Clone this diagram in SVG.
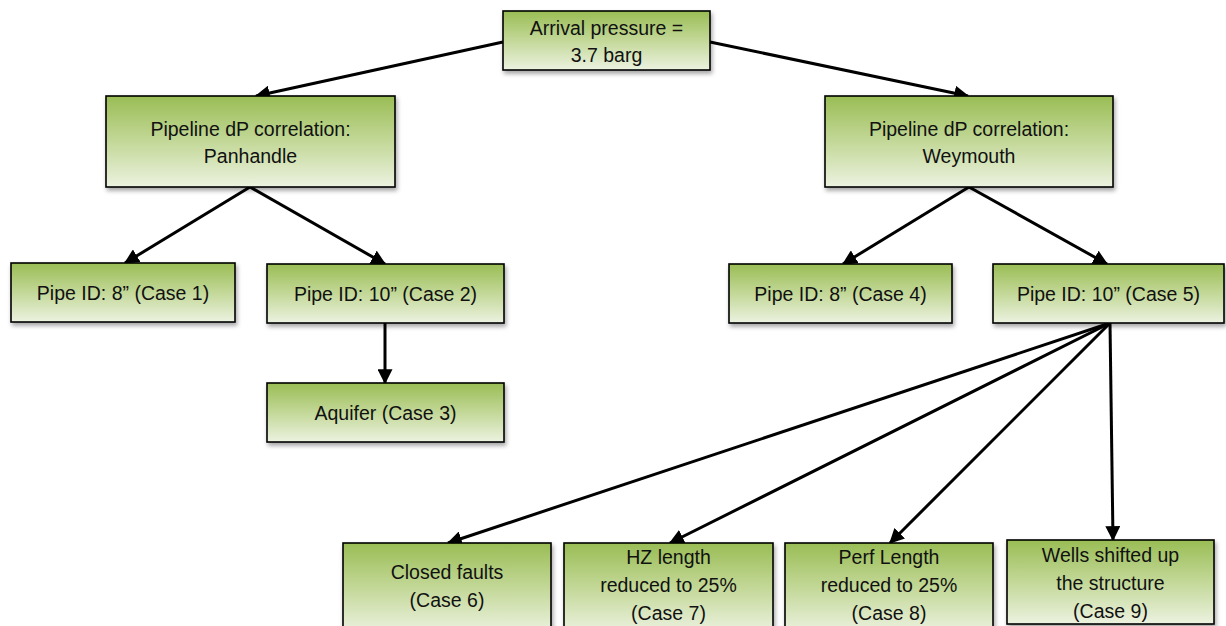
<svg xmlns="http://www.w3.org/2000/svg" width="1226" height="626" viewBox="0 0 1226 626">
<style>
.box{fill:url(#g);stroke:#000;stroke-width:1.6;filter:url(#sh)}
text{font-family:"Liberation Sans",Arial,sans-serif;font-size:19.5px;fill:#111;text-anchor:middle;dominant-baseline:central}
.c line{stroke:#000;stroke-width:3;marker-end:url(#ah)}
</style>
<defs>
<linearGradient id="g" x1="0" y1="0" x2="0" y2="1">
<stop offset="0" stop-color="#9abd55"/>
<stop offset="0.5" stop-color="#c3d898"/>
<stop offset="1" stop-color="#ecf2e0"/>
</linearGradient>
<filter id="sh" x="-10%" y="-10%" width="130%" height="140%">
<feDropShadow dx="1.5" dy="3" stdDeviation="2" flood-color="#000" flood-opacity="0.35"/>
</filter>
<marker id="ah" markerWidth="5" markerHeight="5" refX="4.6" refY="2.5" orient="auto" markerUnits="strokeWidth">
<path d="M0,0 L5,2.5 L0,5 Z" fill="#000"/>
</marker>
</defs>
<g class="c" id="connectors">
<line x1="503" y1="42" x2="256" y2="96"/>
<line x1="710" y1="42" x2="968" y2="96"/>
<line x1="250" y1="187" x2="125" y2="263"/>
<line x1="250" y1="187" x2="385" y2="264"/>
<line x1="385" y1="323" x2="385" y2="383"/>
<line x1="969" y1="187" x2="843" y2="264"/>
<line x1="969" y1="187" x2="1107" y2="264"/>
<line x1="1110" y1="323" x2="448" y2="543"/>
<line x1="1110" y1="323" x2="670" y2="543"/>
<line x1="1110" y1="323" x2="890" y2="543"/>
<line x1="1110" y1="323" x2="1113" y2="540"/>
</g>
<g id="root"><rect class="box" x="503" y="11" width="207" height="59"/><text x="606.5" y="28">Arrival pressure =</text><text x="606.5" y="55">3.7 barg</text></g>
<g id="panhandle"><rect class="box" x="106" y="96" width="289" height="91"/><text x="250.5" y="129">Pipeline dP correlation:</text><text x="250.5" y="156">Panhandle</text></g>
<g id="weymouth"><rect class="box" x="825" y="96" width="288" height="91"/><text x="969" y="129">Pipeline dP correlation:</text><text x="969" y="156">Weymouth</text></g>
<g id="case1"><rect class="box" x="11" y="263" width="224" height="59"/><text x="123" y="293">Pipe ID: 8” (Case 1)</text></g>
<g id="case2"><rect class="box" x="267" y="264" width="237" height="59"/><text x="385.5" y="294">Pipe ID: 10” (Case 2)</text></g>
<g id="case3"><rect class="box" x="267" y="383" width="237" height="59"/><text x="385.5" y="413">Aquifer (Case 3)</text></g>
<g id="case4"><rect class="box" x="729" y="264" width="223" height="59"/><text x="840.5" y="294">Pipe ID: 8” (Case 4)</text></g>
<g id="case5"><rect class="box" x="993" y="264" width="231" height="59"/><text x="1108.5" y="294">Pipe ID: 10” (Case 5)</text></g>
<g id="case6"><rect class="box" x="343" y="543" width="208" height="90"/><text x="447" y="572">Closed faults</text><text x="447" y="600">(Case 6)</text></g>
<g id="case7"><rect class="box" x="564" y="543" width="209" height="90"/><text x="668.5" y="557">HZ length</text><text x="668.5" y="585">reduced to 25%</text><text x="668.5" y="613">(Case 7)</text></g>
<g id="case8"><rect class="box" x="785" y="543" width="208" height="90"/><text x="889" y="557">Perf Length</text><text x="889" y="585">reduced to 25%</text><text x="889" y="613">(Case 8)</text></g>
<g id="case9"><rect class="box" x="1007" y="540" width="207" height="84"/><text x="1110.5" y="555">Wells shifted up</text><text x="1110.5" y="583">the structure</text><text x="1110.5" y="611">(Case 9)</text></g>
</svg>
